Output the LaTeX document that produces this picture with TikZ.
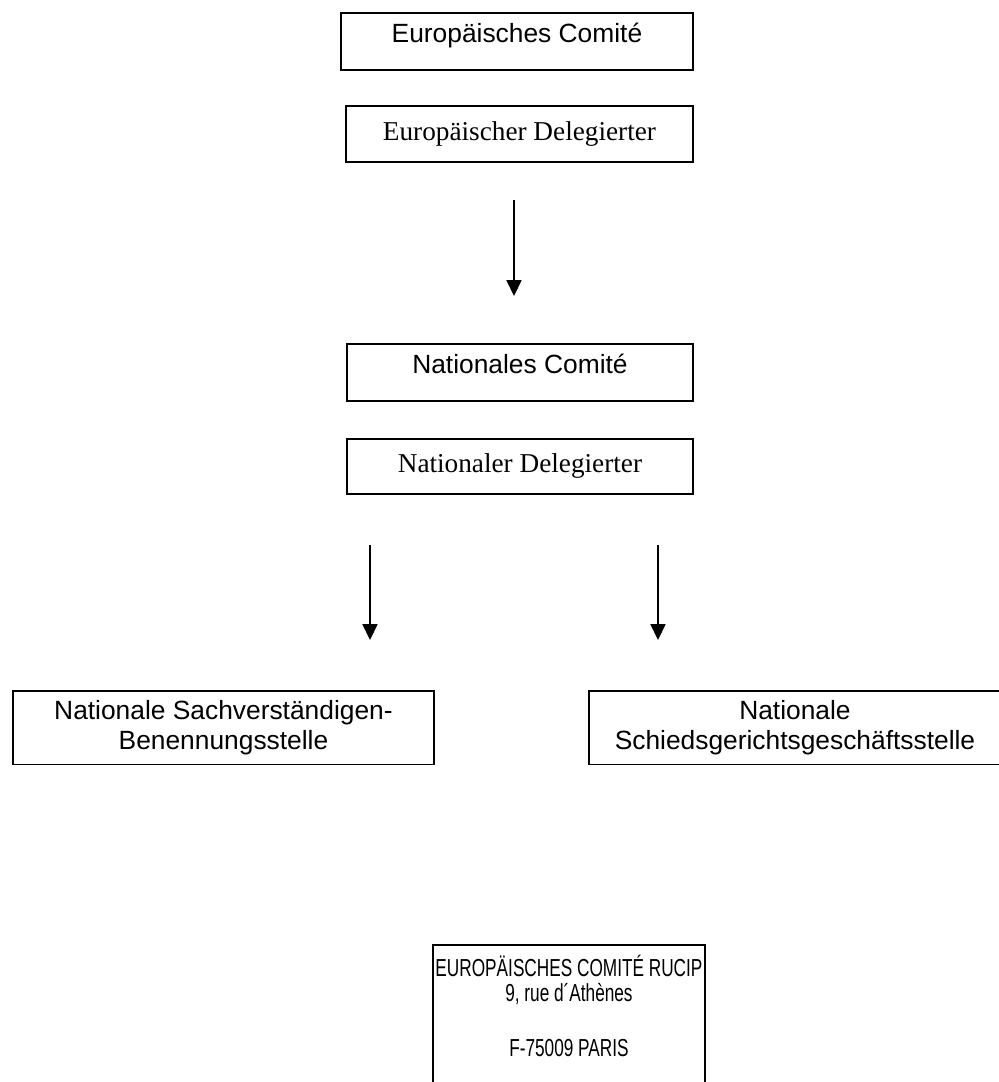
\documentclass[tikz,border=0pt]{standalone}
\usepackage{fontspec}
\setmainfont{Liberation Serif}
\setsansfont{Liberation Sans}
\newfontfamily\narrowsans[FakeStretch=0.7]{Liberation Sans}
\usetikzlibrary{arrows.meta,positioning}

\tikzset{
  box/.style={draw, line width=1.1pt, rectangle, inner sep=0pt, anchor=north west},
  sanstext/.style={font=\fontsize{15}{17}\selectfont\sffamily, align=center},
  seriftext/.style={font=\fontsize{15.5}{18}\selectfont\rmfamily},
  raised/.style={text depth=3.5mm},
  arr/.style={-{Triangle[length=9pt,width=8.5pt]}, line width=0.9pt},
}

\begin{document}
\begin{tikzpicture}[x=0.2mm,y=-0.2mm]
  \useasboundingbox (0,0) rectangle (998,1082);

  % european level
  \node[box, sanstext, raised, minimum width=70.4mm, minimum height=11.4mm] (eucom) at (340,12) {Europäisches Comité};
  \node[box, seriftext, minimum width=69.4mm, minimum height=11.2mm] (eudel) at (345,105) {Europäischer Delegierter};
  \coordinate (euarrA) at (514,200);
  \coordinate (euarrB) at (514,296);
  \draw[arr] (euarrA) -- (euarrB);

  % national level
  \node[box, sanstext, raised, minimum width=69.2mm, minimum height=11.4mm] (natcom) at (346,343) {Nationales Comité};
  \node[box, seriftext, minimum width=69.2mm, minimum height=11mm] (natdel) at (346,438) {Nationaler Delegierter};
  \coordinate (natarrA) at (370,545);
  \coordinate (natarrB) at (370,640);
  \coordinate (natarrC) at (658,545);
  \coordinate (natarrD) at (658,640);
  \draw[arr] (natarrA) -- (natarrB);
  \draw[arr] (natarrC) -- (natarrD);

  \node[box, sanstext, minimum width=84.2mm, minimum height=14.7mm] (sachv) at (12,690) {Nationale Sachverständigen-\\Benennungsstelle};
  \node[box, sanstext, minimum width=82.4mm, minimum height=14.7mm] (schied) at (588,690) {Nationale\\Schiedsgerichtsgeschäftsstelle};

  % address
  \node[box, minimum width=54.4mm, minimum height=40mm] (addrbox) at (432,944) {};
  \node[font=\fontsize{14}{14.2}\selectfont\narrowsans, align=center, inner sep=0pt, below=2.2mm of addrbox.north] (addr)
    {EUROPÄISCHES COMITÉ RUCIP\\9, rue d´Athènes\\[16.8pt]F-75009 PARIS};
\end{tikzpicture}
\end{document}
